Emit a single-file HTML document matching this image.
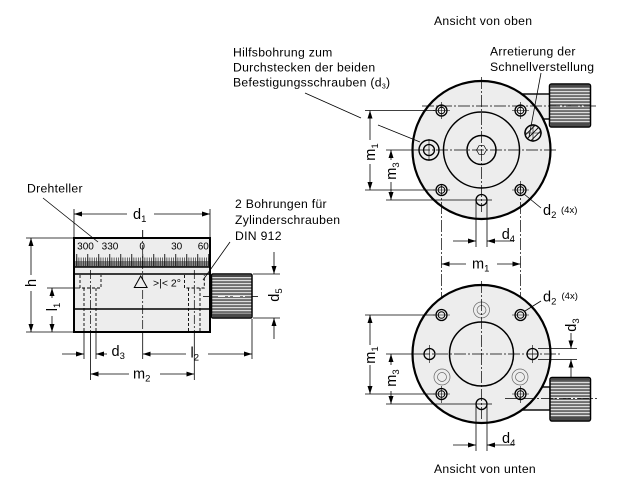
<!DOCTYPE html>
<html><head><meta charset="utf-8"><style>
html,body{margin:0;padding:0;background:#fff;}
svg{display:block;}
text{font-family:"Liberation Sans",Arial,sans-serif;fill:#000;}
.t{font-size:12.2px;letter-spacing:0.3px;}
.dl{font-size:14.5px;}
.sb{font-size:9.5px;}
.sm{font-size:9.5px;}
.num{font-size:10px;}
</style></head><body>
<svg width="618" height="496" viewBox="0 0 618 496" xmlns="http://www.w3.org/2000/svg">
<defs>
<marker id="a" viewBox="0 0 8 5" refX="8" refY="2.5" markerWidth="8" markerHeight="5" markerUnits="userSpaceOnUse" orient="auto"><path d="M0,0L8,2.5L0,5z" fill="#000"/></marker>
<pattern id="kn" patternUnits="userSpaceOnUse" x="0" y="0" width="6" height="3"><rect width="6" height="3" fill="#626262"/><rect y="0.9" width="6" height="1.3" fill="#dcdcdc"/></pattern>
<pattern id="tk" patternUnits="userSpaceOnUse" x="142.35" y="0" width="2.2" height="20"><rect width="0.7" height="20" fill="#222"/></pattern>
<pattern id="tl" patternUnits="userSpaceOnUse" x="142.25" y="0" width="11" height="20"><rect width="0.9" height="20" fill="#111"/></pattern>
</defs>

<!-- ================= LEFT VIEW ================= -->
<rect x="74" y="238" width="136" height="94" fill="#ededed" stroke="#000" stroke-width="2"/>
<rect x="75" y="261" width="134" height="5.5" fill="#8a8a8a"/>
<rect x="75.5" y="257.5" width="133.5" height="8.5" fill="url(#tk)"/>
<rect x="75.5" y="254" width="133.5" height="12" fill="url(#tl)"/>
<g stroke="#000" stroke-width="1.6">
<line x1="74" y1="267" x2="210" y2="267"/>
<line x1="74" y1="274" x2="210" y2="274"/>
<line x1="74" y1="309" x2="210" y2="309"/>
</g>
<g class="num" text-anchor="middle">
<text x="85.5" y="249.5">300</text>
<text x="110" y="249.5">330</text>
<text x="142.2" y="249.5">0</text>
<text x="176.7" y="249.5">30</text>
<text x="203.3" y="249.5">60</text>
</g>
<!-- hidden counterbores -->
<g stroke="#000" stroke-width="0.9" fill="none" stroke-dasharray="3,2">
<path d="M80,275 V288 H101 V275"/>
<line x1="84" y1="288" x2="84" y2="331"/>
<line x1="96" y1="288" x2="96" y2="331"/>
<path d="M184.5,275 V288 H204.3 V275"/>
<line x1="188.5" y1="288" x2="188.5" y2="331"/>
<line x1="200" y1="288" x2="200" y2="331"/>
</g>
<g stroke="#000" stroke-width="0.7" fill="none" stroke-dasharray="9,2,2,2">
<line x1="90.5" y1="270" x2="90.5" y2="331"/>
<line x1="194.3" y1="270" x2="194.3" y2="331"/>
<line x1="142.7" y1="230" x2="142.7" y2="331"/>
</g>
<line x1="142.7" y1="230" x2="142.7" y2="237" stroke="#000" stroke-width="0.8"/>
<path d="M140.7,276 L134.3,287.5 L147.1,287.5Z" fill="#ededed" stroke="#000" stroke-width="1"/>
<text x="153" y="286.5" style="font-size:10.5px">&gt;|&lt; 2°</text>
<!-- knob left -->
<rect x="211.5" y="274" width="40.5" height="44" rx="1.5" fill="url(#kn)" stroke="#000" stroke-width="1.5"/>
<rect x="212.3" y="274.8" width="38.9" height="2.2" fill="#4a4a4a"/>
<rect x="212.3" y="313.5" width="38.9" height="3.7" fill="#4a4a4a"/>
<line x1="203" y1="296.5" x2="211" y2="296.5" stroke="#000" stroke-width="0.8"/>
<line x1="252.5" y1="296.5" x2="258" y2="296.5" stroke="#000" stroke-width="0.8"/>
<line x1="218" y1="296.5" x2="246" y2="296.5" stroke="#f4f4f4" stroke-width="1" stroke-dasharray="7,3,2,3"/>

<!-- extension lines left -->
<g stroke="#000" stroke-width="0.8" fill="none">
<line x1="74" y1="209" x2="74" y2="237"/>
<line x1="210" y1="209" x2="210" y2="237"/>
<line x1="26" y1="238" x2="73" y2="238"/>
<line x1="26" y1="332" x2="73" y2="332"/>
<line x1="47" y1="288" x2="80" y2="288"/>
<line x1="84" y1="333" x2="84" y2="359"/>
<line x1="96" y1="333" x2="96" y2="359"/>
<line x1="90.5" y1="333" x2="90.5" y2="380"/>
<line x1="194.3" y1="333" x2="194.3" y2="380"/>
<line x1="142.7" y1="333" x2="142.7" y2="359"/>
<line x1="252" y1="319" x2="252" y2="359"/>
<line x1="253" y1="274" x2="280" y2="274"/>
<line x1="253" y1="318" x2="280" y2="318"/>
</g>
<!-- dimension lines left -->
<g stroke="#000" stroke-width="0.8" fill="none" marker-end="url(#a)">
<line x1="127" y1="214" x2="74" y2="214"/>
<line x1="154" y1="214" x2="210" y2="214"/>
<line x1="31" y1="275" x2="31" y2="238"/>
<line x1="31" y1="291" x2="31" y2="332"/>
<line x1="52" y1="298" x2="52" y2="288"/>
<line x1="52" y1="316" x2="52" y2="332"/>
<line x1="62" y1="354" x2="84" y2="354"/>
<line x1="107" y1="354" x2="96" y2="354"/>
<line x1="186" y1="354" x2="142.7" y2="354"/>
<line x1="208" y1="354" x2="252" y2="354"/>
<line x1="129" y1="374" x2="90.5" y2="374"/>
<line x1="160" y1="374" x2="194.3" y2="374"/>
<line x1="274" y1="252" x2="274" y2="274"/>
<line x1="274" y1="339" x2="274" y2="318"/>
</g>
<!-- leaders left -->
<g stroke="#000" stroke-width="0.8">
<line x1="43" y1="198" x2="98" y2="242"/>
<line x1="230" y1="242" x2="203" y2="280"/>
</g>
<!-- labels left -->
<text class="t" x="27" y="192.5">Drehteller</text>
<text class="t" x="235" y="208">2 Bohrungen für</text>
<text class="t" x="235" y="224">Zylinderschrauben</text>
<text class="t" x="235" y="240">DIN 912</text>
<text class="dl" x="133" y="219">d<tspan class="sb" dy="3">1</tspan></text>
<text class="dl" x="190.5" y="357.5">l<tspan class="sb" dy="3">2</tspan></text>
<text class="dl" x="111.5" y="356">d<tspan class="sb" dy="3">3</tspan></text>
<text class="dl" x="133" y="378.5">m<tspan class="sb" dy="3">2</tspan></text>
<text class="dl" transform="translate(31,283) rotate(-90)" text-anchor="middle" y="5">h</text>
<text class="dl" transform="translate(52,307) rotate(-90)" text-anchor="middle" y="5">l<tspan class="sb" dy="3">1</tspan></text>
<text class="dl" transform="translate(274,295) rotate(-90)" text-anchor="middle" y="5">d<tspan class="sb" dy="3">5</tspan></text>

<!-- ================= TOP VIEW ================= -->
<text class="t" x="434" y="25">Ansicht von oben</text>
<text class="t" x="233" y="56.5">Hilfsbohrung zum</text>
<text class="t" x="233" y="71.5">Durchstecken der beiden</text>
<text class="t" x="233" y="86.5">Befestigungsschrauben (d<tspan style="font-size:7px" dy="2">3</tspan><tspan dy="-2">)</tspan></text>
<text class="t" x="490" y="55.5">Arretierung der</text>
<text class="t" x="490" y="71">Schnellverstellung</text>

<rect x="512" y="94" width="38" height="25" fill="#ededed" stroke="#000" stroke-width="1.4"/>
<circle cx="481.5" cy="150" r="69" fill="#ededed" stroke="#000" stroke-width="2.2"/>
<rect x="549.5" y="84" width="41" height="43" rx="2" fill="url(#kn)" stroke="#000" stroke-width="1.5"/>
<rect x="550.3" y="84.8" width="39.4" height="2.2" fill="#4a4a4a"/>
<rect x="550.3" y="122.5" width="39.4" height="3.7" fill="#4a4a4a"/>
<line x1="556" y1="106" x2="585" y2="106" stroke="#f4f4f4" stroke-width="1" stroke-dasharray="7,3,2,3"/>

<g stroke="#000" fill="none">
<circle cx="481.5" cy="150" r="38" stroke-width="1.5"/>
<circle cx="481.5" cy="150" r="14.5" stroke-width="1.5"/>
<path d="M486.5,150 L484,145.7 L479,145.7 L476.5,150 L479,154.3 L484,154.3Z" stroke-width="0.7"/>
<!-- d2 holes -->
<g stroke-width="1.3">
<circle cx="441.5" cy="110.5" r="5.5"/><circle cx="441.5" cy="110.5" r="3.3" stroke-width="1"/>
<circle cx="520.5" cy="110.5" r="5.5"/><circle cx="520.5" cy="110.5" r="3.3" stroke-width="1"/>
<circle cx="441.5" cy="190" r="5.5"/><circle cx="441.5" cy="190" r="3.3" stroke-width="1"/>
<circle cx="520.5" cy="190" r="5.5"/><circle cx="520.5" cy="190" r="3.3" stroke-width="1"/>
</g>
<!-- aux hole -->
<circle cx="429" cy="150" r="10" stroke-width="1.4"/>
<circle cx="429" cy="150" r="5.5" stroke-width="1.3"/>
<!-- bottom hole -->
<circle cx="481.5" cy="200" r="5.5" stroke-width="1.3"/>
<!-- arretierung -->
<circle cx="533" cy="133" r="8" stroke-width="1.5"/>
<g stroke-width="0.9">
<line x1="527.3" y1="138.7" x2="538.7" y2="127.3"/>
<line x1="530.9" y1="140.7" x2="540.7" y2="130.9"/>
<line x1="525.3" y1="135.1" x2="535.1" y2="125.3"/>
</g>
</g>
<!-- crosses -->
<g stroke="#000" stroke-width="0.6">
<path d="M433,110.5h17M441.5,102v17M512,110.5h17M520.5,102v17M433,190h17M512,190h17M520.5,181v9"/>
<path d="M429,139v22M524,133h18M533,124v18"/>
</g>
<!-- center lines top -->
<g stroke="#000" stroke-width="0.7" fill="none" stroke-dasharray="12,2,2,2">
<line x1="418" y1="150" x2="558" y2="150"/>
<line x1="481.5" y1="77" x2="481.5" y2="212"/>
<line x1="422" y1="106" x2="597" y2="106"/>
<line x1="441.5" y1="184" x2="441.5" y2="322"/>
<line x1="520.5" y1="184" x2="520.5" y2="322"/>
</g>
<g stroke="#000" stroke-width="0.8" fill="none">
<line x1="386" y1="150" x2="418" y2="150"/>
<line x1="365" y1="110.5" x2="435" y2="110.5"/>
<line x1="365" y1="190" x2="435" y2="190"/>
<line x1="386" y1="200" x2="492" y2="200"/>
<line x1="476" y1="200" x2="476" y2="247"/>
<line x1="487" y1="200" x2="487" y2="247"/>
<!-- leaders -->
<line x1="305" y1="93" x2="361" y2="118"/>
<line x1="378" y1="125" x2="420" y2="142"/>
<line x1="541" y1="73" x2="529" y2="137"/>
<line x1="524" y1="194" x2="541" y2="208"/>
</g>
<g stroke="#000" stroke-width="0.8" fill="none" marker-end="url(#a)">
<line x1="370" y1="140" x2="370" y2="110.5"/>
<line x1="370" y1="164" x2="370" y2="190"/>
<line x1="391" y1="160" x2="391" y2="150"/>
<line x1="391" y1="182" x2="391" y2="200"/>
<line x1="453" y1="241" x2="476" y2="241"/>
<line x1="513" y1="241" x2="487" y2="241"/>
<line x1="466" y1="264" x2="441.5" y2="264"/>
<line x1="497" y1="264" x2="520.5" y2="264"/>
</g>
<text class="dl" transform="translate(370,152) rotate(-90)" text-anchor="middle" y="5">m<tspan class="sb" dy="3">1</tspan></text>
<text class="dl" transform="translate(391,171) rotate(-90)" text-anchor="middle" y="5">m<tspan class="sb" dy="3">3</tspan></text>
<text class="dl" x="501.7" y="239">d<tspan class="sb" dy="3">4</tspan></text>
<text class="dl" x="543" y="215">d<tspan class="sb" dy="3">2</tspan></text>
<text class="sm" x="561" y="213">(4x)</text>
<text class="dl" x="472" y="268.5">m<tspan class="sb" dy="3">1</tspan></text>

<!-- ================= BOTTOM VIEW ================= -->
<rect x="512" y="387" width="38" height="23" fill="#ededed" stroke="#000" stroke-width="1.4"/>
<circle cx="481.5" cy="354" r="69" fill="#ededed" stroke="#000" stroke-width="2.2"/>
<rect x="550" y="377.5" width="40.5" height="43.5" rx="2" fill="url(#kn)" stroke="#000" stroke-width="1.5"/>
<rect x="550.8" y="378.3" width="38.9" height="2.2" fill="#4a4a4a"/>
<rect x="550.8" y="416.5" width="38.9" height="3.7" fill="#4a4a4a"/>
<line x1="556" y1="398.5" x2="585" y2="398.5" stroke="#f4f4f4" stroke-width="1" stroke-dasharray="7,3,2,3"/>

<g stroke="#000" fill="none">
<circle cx="481.5" cy="354" r="32" stroke-width="1.5"/>
<g stroke-width="1.3">
<circle cx="441.5" cy="315" r="5.5"/><circle cx="441.5" cy="315" r="3.3" stroke-width="1"/>
<circle cx="520.5" cy="315" r="5.5"/><circle cx="520.5" cy="315" r="3.3" stroke-width="1"/>
<circle cx="441.5" cy="394" r="5.5"/><circle cx="441.5" cy="394" r="3.3" stroke-width="1"/>
<circle cx="520.5" cy="394" r="5.5"/><circle cx="520.5" cy="394" r="3.3" stroke-width="1"/>
<circle cx="429.5" cy="354" r="5.5"/>
<circle cx="532.5" cy="354" r="5.5"/>
<circle cx="481.5" cy="404" r="5.5"/>
</g>
<g stroke="#666" stroke-width="0.7">
<circle cx="481.5" cy="310" r="8"/><circle cx="481.5" cy="310" r="4.5"/>
<circle cx="442" cy="377" r="8"/><circle cx="442" cy="377" r="4.5"/>
<circle cx="520" cy="377" r="8"/><circle cx="520" cy="377" r="4.5"/>
</g>
</g>
<g stroke="#000" stroke-width="0.6">
<path d="M433,315h17M512,315h17M433,394h17M441.5,386v17M512,394h17M520.5,386v17"/>
<path d="M429.5,345v18M532.5,345v18"/>
</g>
<g stroke="#000" stroke-width="0.7" fill="none" stroke-dasharray="12,2,2,2">
<line x1="418" y1="354" x2="560" y2="354"/>
<line x1="481.5" y1="281" x2="481.5" y2="420"/>
<line x1="505" y1="398.5" x2="597" y2="398.5"/>
</g>
<g stroke="#000" stroke-width="0.8" fill="none">
<line x1="386" y1="354" x2="418" y2="354"/>
<line x1="365" y1="315" x2="435" y2="315"/>
<line x1="365" y1="394" x2="435" y2="394"/>
<line x1="386" y1="404" x2="492" y2="404"/>
<line x1="476" y1="404" x2="476" y2="451"/>
<line x1="487" y1="404" x2="487" y2="451"/>
<line x1="538" y1="348.5" x2="577" y2="348.5"/>
<line x1="538" y1="359.5" x2="577" y2="359.5"/>
<line x1="525" y1="311" x2="541" y2="301"/>
</g>
<g stroke="#000" stroke-width="0.8" fill="none" marker-end="url(#a)">
<line x1="370" y1="345" x2="370" y2="315"/>
<line x1="370" y1="365" x2="370" y2="394"/>
<line x1="391" y1="365" x2="391" y2="354"/>
<line x1="391" y1="391" x2="391" y2="404"/>
<line x1="571" y1="333" x2="571" y2="348.5"/>
<line x1="571" y1="377" x2="571" y2="359.5"/>
<line x1="453" y1="445" x2="476" y2="445"/>
<line x1="513" y1="445" x2="487" y2="445"/>
</g>
<text class="dl" transform="translate(370,355) rotate(-90)" text-anchor="middle" y="5">m<tspan class="sb" dy="3">1</tspan></text>
<text class="dl" transform="translate(391,378) rotate(-90)" text-anchor="middle" y="5">m<tspan class="sb" dy="3">3</tspan></text>
<text class="dl" transform="translate(571,325) rotate(-90)" text-anchor="middle" y="5">d<tspan class="sb" dy="3">3</tspan></text>
<text class="dl" x="543" y="301.5">d<tspan class="sb" dy="3">2</tspan></text>
<text class="sm" x="561.5" y="299">(4x)</text>
<text class="dl" x="502" y="443">d<tspan class="sb" dy="3">4</tspan></text>
<text class="t" x="434" y="473">Ansicht von unten</text>
</svg>
</body></html>
